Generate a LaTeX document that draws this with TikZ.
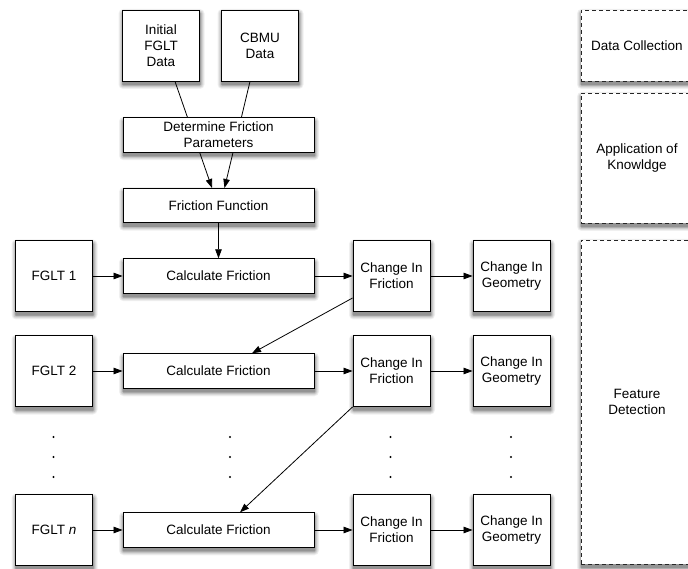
\documentclass[tikz,border=0pt]{standalone}
\usepackage{fontspec}
\setmainfont{Liberation Sans}
\usetikzlibrary{arrows.meta,backgrounds}
\begin{document}
\begin{tikzpicture}[x=1pt,y=1pt,
  font=\fontsize{13.5}{15.8}\selectfont,
  box/.style={draw=black, line width=0.9pt, fill=white, align=center,
      inner sep=2pt},
  sq/.style={box, minimum width=77pt, minimum height=71pt},
  wide/.style={box, minimum width=191pt, minimum height=34.5pt},
  zone/.style={draw=black!85, line width=0.8pt, dash pattern=on 4pt off 3pt,
      fill=white, align=center, inner sep=0pt, minimum width=112pt},
  arr/.style={-{Triangle[length=9pt,width=6.5pt]}, line width=0.8pt},
  dot/.style={fill=black},
]
\useasboundingbox (0,0) rectangle (688,-569);

% soft drop shadows (centre x / centre y / width / height), drawn first
\foreach \cx/\cy/\w/\h in {
    161/45.5/77/71, 260/45.5/77/71, 218.5/135/191/34.5, 218.5/205.5/191/34.5,
    54/276/77/71, 218.5/276/191/34.5, 391.5/276/77/71, 511.5/276/77/71,
    54/371/77/71, 218.5/371/191/34.5, 391.5/371/77/71, 511.5/371/77/71,
    54/530/77/71, 218.5/530/191/34.5, 391.5/530/77/71, 511.5/530/77/71,
    637/45.5/112/71, 637/158/112/130, 637/402/112/324}{
  \foreach \r/\c in {4.5/6,3.5/12,2.5/20,1.5/30,0.6/42}
    \fill[black!\c, rounded corners=\r pt]
      (\cx-\w/2-\r+0.5, -\cy-\h/2-\r-3.5) rectangle
      (\cx+\w/2+\r+0.5, -\cy+\h/2+\r-3.5);
}

% data sources and friction model
\node[sq]   (init) at (161,-45.5)  {Initial\\FGLT\\Data};
\node[sq]   (cbmu) at (260,-45.5)  {CBMU\\Data};

% inputs run behind the parameter box into the friction function
\coordinate (ffin1) at (212,-188);
\coordinate (ffin2) at (224.5,-188);
\draw[arr] ([xshift=14pt]init.south) -- (ffin1);
\draw[arr] ([xshift=-10pt]cbmu.south) -- (ffin2);

\node[wide] (det)  at (218.5,-135) {Determine Friction\\Parameters};
\node[wide] (ff)   at (218.5,-205.5) {Friction Function};

% first row
\node[sq]   (fglt1) at (54,-276)    {FGLT 1};
\node[wide] (calc1) at (218.5,-276) {Calculate Friction};
\node[sq]   (cif1)  at (391.5,-276) {Change In\\Friction};
\node[sq]   (cig1)  at (511.5,-276) {Change In\\Geometry};

% second row
\node[sq]   (fglt2) at (54,-371)    {FGLT 2};
\node[wide] (calc2) at (218.5,-371) {Calculate Friction};
\node[sq]   (cif2)  at (391.5,-371) {Change In\\Friction};
\node[sq]   (cig2)  at (511.5,-371) {Change In\\Geometry};

% last row
\node[sq]   (fgltn) at (54,-530)    {FGLT \textit{n}};
\node[wide] (calcn) at (218.5,-530) {Calculate Friction};
\node[sq]   (cifn)  at (391.5,-530) {Change In\\Friction};
\node[sq]   (cign)  at (511.5,-530) {Change In\\Geometry};

% phases
\node[zone, minimum height=71pt]  (zdata) at (637,-45.5) {Data Collection};
\node[zone, minimum height=130pt] (zapp)  at (637,-158)  {Application of\\Knowldge};
\node[zone, minimum height=324pt] (zfeat) at (637,-402)  {Feature\\Detection};

\draw[arr] (ff) -- (calc1);

\draw[arr] (fglt1) -- (calc1);
\draw[arr] (calc1) -- (cif1);
\draw[arr] (cif1) -- (cig1);

\draw[arr] (fglt2) -- (calc2);
\draw[arr] (calc2) -- (cif2);
\draw[arr] (cif2) -- (cig2);

\draw[arr] (fgltn) -- (calcn);
\draw[arr] (calcn) -- (cifn);
\draw[arr] (cifn) -- (cign);

\draw[arr] ([yshift=-22pt]cif1.west) -- ([xshift=33.5pt]calc2.north);
\draw[arr] (cif2.south west) -- ([xshift=21.5pt]calcn.north);

% ellipsis dots between rows
\foreach \x in {53.5,230,390.5,511}
  \foreach \y in {437,457,477}
    \fill[dot] (\x,-\y) circle (1.2pt);
\end{tikzpicture}
\end{document}
